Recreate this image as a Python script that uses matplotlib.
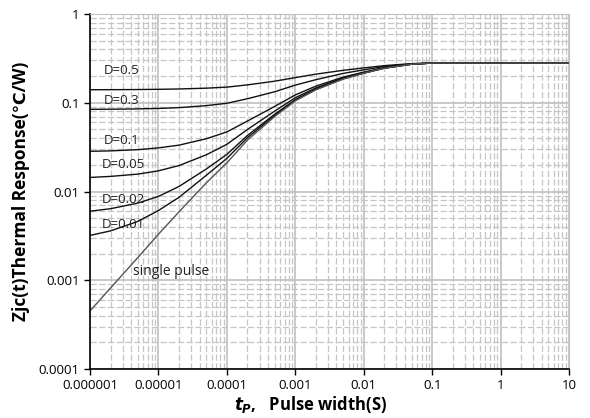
import matplotlib
matplotlib.use('Agg')
import matplotlib.pyplot as plt
from matplotlib.ticker import LogLocator, NullFormatter

plt.rcParams['font.family'] = ['Open Sans', 'DejaVu Sans']
plt.rcParams['mathtext.fontset'] = 'custom'
plt.rcParams['mathtext.it'] = 'DejaVu Sans:italic:bold'

# pulse width (s)
tp = [1e-6, 2e-6, 5e-6, 1e-5, 2e-5, 5e-5, 1e-4, 2e-4, 5e-4, 1e-3, 2e-3, 5e-3,
      1e-2, 2e-2, 5e-2, 0.1, 0.2, 0.5, 1, 2, 5, 10]

# thermal response (C/W)
single_pulse = [0.00045, 0.00082, 0.0018, 0.0033, 0.0059, 0.0125, 0.021, 0.038, 0.070,
                0.105, 0.14, 0.185, 0.215, 0.245, 0.272, 0.28, 0.28, 0.28, 0.28, 0.28, 0.28, 0.28]
d_001 = [0.0032, 0.0036, 0.0046, 0.0061, 0.0086, 0.0152, 0.0236, 0.0404, 0.072,
         0.107, 0.141, 0.186, 0.216, 0.245, 0.272, 0.28, 0.28, 0.28, 0.28, 0.28, 0.28, 0.28]
d_002 = [0.0060, 0.0064, 0.0074, 0.0088, 0.0114, 0.0179, 0.0262, 0.0428, 0.0742,
         0.1085, 0.143, 0.187, 0.216, 0.246, 0.272, 0.28, 0.28, 0.28, 0.28, 0.28, 0.28, 0.28]
d_005 = [0.0144, 0.0148, 0.0157, 0.0171, 0.0196, 0.0259, 0.034, 0.050, 0.0805,
         0.114, 0.147, 0.19, 0.218, 0.247, 0.272, 0.28, 0.28, 0.28, 0.28, 0.28, 0.28, 0.28]
d_01 = [0.0284, 0.0287, 0.0296, 0.0310, 0.0333, 0.0393, 0.0469, 0.0622, 0.091,
        0.1225, 0.154, 0.1945, 0.2215, 0.2485, 0.273, 0.28, 0.28, 0.28, 0.28, 0.28, 0.28, 0.28]
d_03 = [0.0843, 0.0846, 0.0853, 0.0863, 0.0881, 0.0928, 0.0987, 0.111, 0.133,
        0.158, 0.182, 0.214, 0.235, 0.256, 0.274, 0.28, 0.28, 0.28, 0.28, 0.28, 0.28, 0.28]
d_05 = [0.1402, 0.1404, 0.1409, 0.1417, 0.143, 0.146, 0.150, 0.159, 0.175,
        0.192, 0.210, 0.232, 0.247, 0.262, 0.276, 0.28, 0.28, 0.28, 0.28, 0.28, 0.28, 0.28]

duty_labels = ['D=0.5', 'D=0.3', 'D=0.1', 'D=0.05', 'D=0.02', 'D=0.01']
duty_series = [d_05, d_03, d_01, d_005, d_002, d_001]
label_x = [1.6e-6, 1.6e-6, 1.6e-6, 1.5e-6, 1.5e-6, 1.5e-6]
label_y = [0.23, 0.107, 0.038, 0.0204, 0.0081, 0.0043]

x_ticks = [1e-6, 1e-5, 1e-4, 1e-3, 1e-2, 0.1, 1, 10]
x_tick_labels = ['0.000001', '0.00001', '0.0001', '0.001', '0.01', '0.1', '1', '10']
y_ticks = [1e-4, 1e-3, 1e-2, 0.1, 1]
y_tick_labels = ['0.0001', '0.001', '0.01', '0.1', '1']

fig = plt.figure(figsize=(5.9, 4.18), dpi=100)
ax = fig.add_axes([0.1525, 0.1172, 0.812, 0.8493])
ax.set_xscale('log')
ax.set_yscale('log')
ax.set_xlim(1e-6, 10)
ax.set_ylim(1e-4, 1)

# grid: solid majors, dashed minors
ax.xaxis.set_minor_locator(LogLocator(base=10, subs=range(2, 10), numticks=20))
ax.yaxis.set_minor_locator(LogLocator(base=10, subs=range(2, 10), numticks=20))
ax.xaxis.set_minor_formatter(NullFormatter())
ax.yaxis.set_minor_formatter(NullFormatter())
ax.grid(which='major', color='#c0c0c0', linewidth=1.2, linestyle='-')
ax.grid(which='minor', color='#c6c6c6', linewidth=0.9, linestyle=(0, (5, 2)))
ax.set_axisbelow(True)

for s in duty_series:
    ax.plot(tp, s, color='#111111', linewidth=1.0)
ax.plot(tp, single_pulse, color='#555555', linewidth=1.0)

for txt, xx, yy in zip(duty_labels, label_x, label_y):
    ax.text(xx, yy, txt, fontsize=9.5, ha='left', va='center', color='#222222')
ax.text(4.3e-6, 0.00124, 'single pulse', fontsize=10, ha='left', va='center', color='#222222')

ax.set_xticks(x_ticks)
ax.set_xticklabels(x_tick_labels)
ax.set_yticks(y_ticks)
ax.set_yticklabels(y_tick_labels)
ax.tick_params(which='major', direction='out', length=4, width=1, labelsize=9.5, colors='black')
ax.tick_params(which='minor', length=0)

ax.spines['top'].set_color('#c0c0c0')
ax.spines['right'].set_color('#c0c0c0')
ax.spines['left'].set_linewidth(1.2)
ax.spines['bottom'].set_linewidth(1.2)

ax.set_ylabel('Zjc(t)Thermal Response(℃/W)', fontsize=12.5, fontweight='bold')
ax.set_xlabel(r'$t_P$,   Pulse width(S)', fontsize=12, fontweight='bold')
ax.yaxis.set_label_coords(-0.125, 0.5)
ax.xaxis.set_label_coords(0.46, -0.07)

fig.savefig('out.png', dpi=100)
